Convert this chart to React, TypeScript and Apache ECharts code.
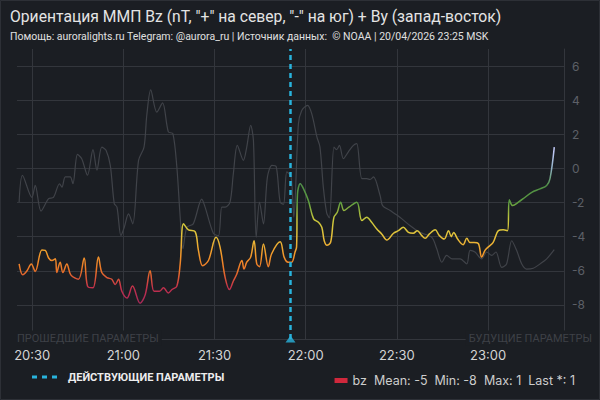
// ММП Bz / By — тёмная тема, Bz раскрашен по значению, By серым.
import React, { useEffect, useRef } from "react";
import * as echarts from "echarts";

const T0 = new Date(2026, 3, 20, 20, 25).getTime();
const MIN_MS = 60 * 1000;
const SPAN_MIN = 180;
const NOW_MIN = 90; // 21:55, действующие параметры
const X_TICKS_MIN = [5, 35, 65, 95, 125, 155]; // 20:30 … 23:00

const TITLE = 'Ориентация ММП Bz (nT, "+" на север, "-" на юг) + By (запад-восток)';
const SUBTITLE = "Помощь: auroralights.ru Telegram: @aurora_ru | Источник данных:  © NOAA | 20/04/2026 23:25 MSK";
const PAST_LABEL = "ПРОШЕДШИЕ ПАРАМЕТРЫ";
const FUTURE_LABEL = "БУДУЩИЕ ПАРАМЕТРЫ";
const NOW_LABEL = "ДЕЙСТВУЮЩИЕ ПАРАМЕТРЫ";
const BZ_STATS = { mean: -5, min: -8, max: 1, last: 1 };

const Y_MIN = -10;
const Y_MAX = 7;
const Y_STEP = 2;

// [минуты от 20:25, nT]
const BZ: [number, number][] = [
  [0.7, -5.6], [1.9, -6.24], [3.3, -6.0], [4.7, -5.6], [6, -6.04], [8.2, -4.78], [9.3, -4.8],
  [10.4, -5.25], [11.5, -5.4], [12.6, -5.3], [13.1, -6.1], [14.2, -5.5], [15.1, -6.1], [16.4, -5.6],
  [17.7, -6.24], [20.2, -6.5], [22.1, -5.25], [23.2, -6.9], [25, -7.0], [26.8, -5.2], [27.9, -6.1],
  [29.6, -6.4], [31.2, -6.5], [32.3, -6.8], [33.4, -6.5], [34.5, -7.2], [36.2, -7.6], [38, -6.9],
  [40.5, -7.9], [42.2, -7.4], [43.8, -6.0], [45.1, -7.2], [46.9, -7.2], [48.2, -7.0], [49.8, -7.3],
  [51, -7.1], [52.6, -6.9], [53.7, -5.6], [54.8, -3.25], [56.4, -3.6], [58.6, -3.7], [59.7, -4.8],
  [61.1, -5.7], [63, -5.4], [65.5, -4.04], [66.8, -4.6], [68.5, -6.4], [69.9, -7.1], [71.2, -6.6],
  [72.3, -6.2], [74, -5.4], [74.7, -5.9], [75.6, -5.5], [76.9, -5.2], [78, -4.24], [78.9, -5.6],
  [79.8, -5.76], [81.1, -4.43], [82.7, -5.76], [83.8, -5.0], [86.6, -4.3], [87.9, -5.2], [89.2, -5.5],
  [90.4, -5.5], [91.5, -4.9], [92.0, -4.6], [92.3, -1.5], [93.2, -0.9], [94.3, -1.2], [95.9, -1.9],
  [97.6, -2.96], [99.2, -3.16], [100.3, -3.45], [101.1, -4.24], [102, -4.5], [103.2, -4.33],
  [104.3, -2.86], [105.4, -2.57], [106.5, -1.98], [107.6, -2.47], [109.2, -2.27], [111.8, -1.98],
  [113.5, -3.06], [115.1, -2.86], [116.7, -3.16], [118.4, -3.55], [120, -3.84], [121.7, -4.2],
  [123.9, -3.8], [125.5, -3.65], [127.1, -3.45], [128.8, -3.75], [130.4, -3.8], [131.7, -3.65],
  [133.2, -3.94], [134.3, -4.1], [135.7, -3.84], [137.6, -3.6], [139, -3.94], [140.6, -4.14],
  [142, -3.65], [142.9, -4.0], [143.7, -3.75], [145, -4.14], [146.8, -4.47], [148, -4.1],
  [149.1, -4.35], [150.4, -4.35], [151.8, -4.4], [152.9, -5.2], [154, -4.8], [155.1, -4.6],
  [156.7, -4.33], [158.4, -3.65], [160, -3.6], [161.4, -3.65], [162, -1.84], [163.1, -2.18],
  [165, -1.98], [167.2, -1.69], [169.4, -1.4], [172.1, -1.2], [174.3, -1.0], [175.4, -0.6],
  [176.8, 1.25],
];

const BY: [number, number][] = [
  [0.7, -1.98], [1.8, -0.41], [4.9, -1.7], [6, -1.0], [7.9, -2.5], [10.4, -1.77], [12, -1.7],
  [14, -0.9], [14.8, -1.1], [15.9, -0.5], [17.5, -0.5], [18.4, -0.9], [19.9, 0.82], [21.3, 0.57],
  [23.2, -0.4], [25, 1.1], [26.3, -0.1], [27.9, 1.25], [29.3, 1.06], [30.7, 0.18], [32, -2.06],
  [32.9, -2.27], [34.2, -3.94], [35.3, -3.45], [36.7, -2.67], [38.1, -3.25], [40, 0.47],
  [41.8, 1.25], [42.7, 3.1], [44, 4.6], [46, 3.3], [47.9, 3.84], [49.8, 2.14], [51.3, 2.04],
  [52.6, 0.08], [53.7, -2.86], [54.6, -4.7], [55.9, -3.45], [58, -3.25], [60.8, -1.8],
  [61.9, -2.27], [64.6, -3.8], [66.3, -3.94], [67.4, -2.27], [68.5, -2.27], [70.1, -1.98],
  [71.2, -0.3], [72.5, 1.35], [74.5, 0.47], [75.6, 1.25], [76.9, 2.53], [77.8, 1.65],
  [78.7, -4.04], [79.8, -1.98], [81.1, -3.25], [82.4, -0.51], [83.9, 0.18], [85.3, 0.1],
  [86.6, -1.98], [87.7, -2.1], [88.8, -0.2], [90.2, -0.5], [91.1, -2.86], [92.6, 2.6],
  [93.7, 3.4], [95.6, 3.7], [97, 3.2], [98.7, 1.84], [99.7, 1.25], [100.8, -1.1], [101.9, -2.6],
  [102.8, -2.9], [104.3, 1.25], [105.2, 1.1], [106.1, 1.35], [107.4, 0.57], [109, 0.96],
  [110.7, 1.35], [111.8, 1.45], [113.5, -0.6], [115.1, -0.6], [116.2, -0.65], [117.3, -0.5],
  [119.5, -1.6], [120.3, -2.18], [122.8, -2.47], [126, -2.86], [129.3, -3.35], [132.6, -3.75],
  [136.5, -4.04], [138.1, -4.7], [139.8, -5.5], [141.4, -5.1], [143.1, -5.3], [145.8, -5.3],
  [148, -5.6], [149.1, -4.8], [150.7, -4.9], [152.9, -5.3], [154.6, -4.9], [156.2, -5.1],
  [157.6, -4.9], [159.5, -5.8], [161.1, -5.6], [162.8, -4.24], [164.4, -4.8], [166.1, -5.6],
  [167.7, -5.9], [169.9, -5.85], [172.1, -5.6], [174.3, -5.3], [176.8, -4.76],
];

const BG = "#1b1e23";
const GRID = "#33363c";
const CYAN = "#29b3dc";
const BY_COLOR = "#404349";

const toT = (m: number) => T0 + m * MIN_MS;

export default function App() {
  const ref = useRef<HTMLDivElement | null>(null);

  useEffect(() => {
    if (!ref.current) return;
    const chart = echarts.init(ref.current, undefined, { renderer: "svg" });
    const legendText =
      `bz  Mean: ${BZ_STATS.mean}  Min: ${BZ_STATS.min}  Max: ${BZ_STATS.max}  Last *: ${BZ_STATS.last}`;
    const xTicks = X_TICKS_MIN.map(toT);

    chart.setOption({
      animation: false,
      backgroundColor: BG,
      textStyle: { fontFamily: "Inter, sans-serif" },
      grid: { left: 17, right: 36, top: 49, bottom: 61 },
      xAxis: {
        type: "time",
        min: toT(0),
        max: toT(SPAN_MIN),
        axisLine: { show: true, lineStyle: { color: GRID } },
        axisTick: { show: false, customValues: xTicks },
        axisLabel: {
          color: "#d4d4d4",
          fontSize: 13,
          margin: 9,
          customValues: xTicks,
          formatter: "{HH}:{mm}",
          hideOverlap: false,
        },
        splitLine: { show: true, showMinLine: false, showMaxLine: false, lineStyle: { color: GRID, width: 1 } },
      },
      yAxis: {
        type: "value",
        position: "right",
        min: Y_MIN,
        max: Y_MAX,
        interval: Y_STEP,
        axisLine: { show: true, lineStyle: { color: GRID } },
        axisTick: { show: false },
        axisLabel: { color: "#5d6067", fontSize: 12, margin: 8, showMinLabel: false, showMaxLabel: false },
        splitLine: { show: true, showMaxLine: false, lineStyle: { color: GRID, width: 1 } },
      },
      visualMap: {
        type: "continuous",
        show: false,
        seriesIndex: 0,
        dimension: 1,
        min: -8,
        max: 1,
        inRange: {
          color: ["#a3285a", "#c3304c", "#ea7227", "#f29a2b", "#e6c13a", "#c9c83c", "#5c9c40", "#4f8e45", "#8fb0c4", "#c0c8f6"],
        },
      },
      legend: {
        right: 20,
        top: 369,
        icon: "rect",
        itemWidth: 13,
        itemHeight: 5,
        itemGap: 10,
        data: [{ name: "bz", itemStyle: { color: "#d0283c" } }],
        formatter: () => legendText,
        textStyle: { color: "#cdcdcd", fontSize: 12.5, fontFamily: "Inter, sans-serif" },
      },
      series: [
        {
          name: "bz",
          type: "line",
          data: BZ.map(([m, v]) => [toT(m), v]),
          showSymbol: false,
          smooth: 0.35,
          lineStyle: { width: 1.5 },
          z: 4,
          markLine: {
            silent: true,
            symbol: ["none", "none"],
            label: { show: false },
            lineStyle: { color: CYAN, width: 2.5, type: [5, 4] },
            data: [{ xAxis: toT(NOW_MIN) }],
          },
        },
        {
          name: "by",
          type: "line",
          data: BY.map(([m, v]) => [toT(m), v]),
          showSymbol: false,
          smooth: 0.3,
          color: BY_COLOR,
          lineStyle: { width: 1.2, color: BY_COLOR },
          z: 3,
        },
        {
          name: "now",
          type: "scatter",
          data: [[toT(NOW_MIN), Y_MIN]],
          symbol: "triangle",
          symbolSize: [10, 7],
          itemStyle: { color: CYAN },
          clip: false,
          silent: true,
          z: 6,
        },
      ],
      graphic: [
        {
          type: "rect",
          shape: { x: 0.5, y: 0.5, width: 599, height: 399 },
          style: { fill: "none", stroke: "#2d3036", lineWidth: 1 },
          silent: true,
        },
        {
          type: "text",
          left: 10,
          top: 8,
          style: { text: TITLE, fill: "#e4e4e4", font: "15.7px Roboto, sans-serif" },
        },
        {
          type: "text",
          left: 10,
          top: 31,
          style: { text: SUBTITLE, fill: "#e0e0e0", font: "10.5px Roboto, sans-serif" },
        },
        {
          type: "text",
          x: 17,
          y: 338,
          z: 50,
          style: {
            text: PAST_LABEL,
            fill: "#3e4147",
            font: "11px Roboto, sans-serif",
            verticalAlign: "middle",
            backgroundColor: BG,
            padding: [2, 3, 2, 0],
          },
        },
        {
          type: "text",
          x: 592,
          y: 338,
          z: 50,
          style: {
            text: FUTURE_LABEL,
            fill: "#3e4147",
            font: "11px Roboto, sans-serif",
            align: "right",
            verticalAlign: "middle",
            backgroundColor: BG,
            padding: [2, 0, 2, 3],
          },
        },
        {
          type: "line",
          shape: { x1: 32, y1: 377, x2: 58, y2: 377 },
          style: { stroke: CYAN, lineWidth: 3, lineDash: [5, 5] },
        },
        {
          type: "text",
          x: 68,
          y: 377,
          style: {
            text: NOW_LABEL,
            fill: "#ededed",
            font: "bold 11px Roboto, sans-serif",
            verticalAlign: "middle",
          },
        },
      ],
    });

    return () => chart.dispose();
  }, []);

  return (
    <div
      ref={ref}
      style={{ position: "fixed", left: 0, top: 0, width: 600, height: 400 }}
      role="img"
      aria-label="Ориентация ММП Bz и By"
    />
  );
}
